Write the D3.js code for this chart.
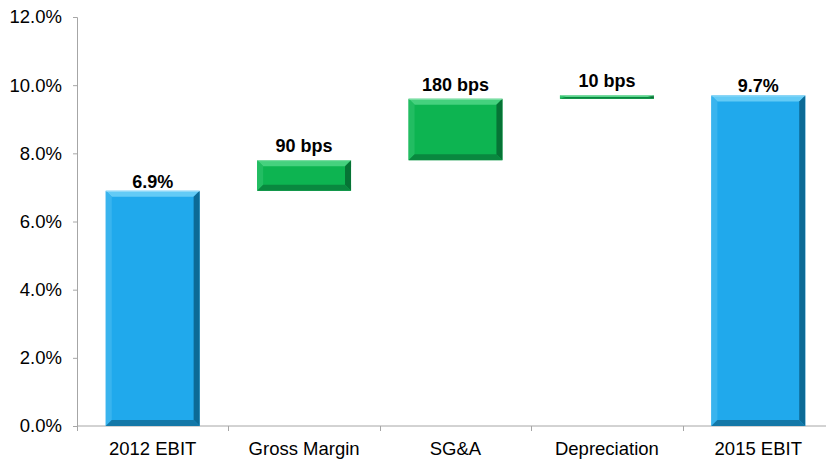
<!DOCTYPE html>
<html>
<head>
<meta charset="utf-8">
<script src="https://cdn.jsdelivr.net/npm/d3@7"></script>
<style>
  html, body { margin: 0; padding: 0; background: #fff; }
  svg { display: block; }
  text { font-family: "Liberation Sans", Arial, sans-serif; }
</style>
</head>
<body>
<svg id="chart" width="826" height="461"></svg>
<script>
// EBIT margin bridge, 2012 -> 2015 (percent of sales)
const categories = ["2012 EBIT", "Gross Margin", "SG&A", "Depreciation", "2015 EBIT"];
const kinds      = ["total", "step", "step", "step", "total"];
const changes    = [6.9, 0.9, 1.8, 0.1, 9.7];          // totals are levels, steps are deltas (pp)
const labels     = ["6.9%", "90 bps", "180 bps", "10 bps", "9.7%"];
const yTicks     = [0, 2, 4, 6, 8, 10, 12];

(function () {
  // running base for the floating steps
  let level = 0;
  const bars = categories.map((c, i) => {
    let lo, hi;
    if (kinds[i] === "total") { lo = 0; hi = changes[i]; level = hi; }
    else { lo = level; hi = level + changes[i]; level = hi; }
    return { cat: c, kind: kinds[i], lo, hi, label: labels[i] };
  });

  const svg = d3.select("#chart");
  const plotLeft = 77, plotRight = 834, plotTop = 17, plotBottom = 426;

  const x = d3.scaleBand().domain(categories).range([plotLeft, plotRight])
    .paddingInner(0.38).paddingOuter(0.19);
  const y = d3.scaleLinear().domain([0, 12]).range([plotBottom, plotTop]);

  const axisColor = "#a6a6a6";
  const palette = {
    total: { face: "#20a9ec", top: "#63cbf6", leftE: "#39b4ee", right: "#0c6a96", bot: "#1378a8" },
    step:  { face: "#0db451", top: "#45d17e", leftE: "#22bd62", right: "#067335", bot: "#09883f" }
  };
  const labelGap = { total: 3, step: 8 };

  // y axis
  const yAxis = d3.axisLeft(y).tickValues(yTicks).tickSize(4).tickPadding(11)
    .tickFormat(d => d3.format(".1f")(d) + "%");
  const gy = svg.append("g").attr("transform", `translate(${plotLeft},0)`).call(yAxis);
  gy.select(".domain").attr("stroke", axisColor);
  gy.selectAll(".tick line").attr("stroke", axisColor);
  gy.selectAll(".tick text").attr("fill", "#000").style("font-size", "18.5px")
    .style("font-family", "'Liberation Sans', Arial, sans-serif");

  // x axis baseline with tick marks on band boundaries
  svg.append("line").attr("x1", plotLeft).attr("x2", 826).attr("y1", y(0)).attr("y2", y(0))
    .attr("stroke", axisColor);
  const boundaries = categories.map(c => x(c) - x.step() * x.paddingInner() / 2);
  svg.selectAll(".xtick").data(boundaries).join("line")
    .attr("x1", d => Math.round(d) + 0.5).attr("x2", d => Math.round(d) + 0.5)
    .attr("y1", y(0)).attr("y2", y(0) + 5).attr("stroke", axisColor);
  svg.selectAll(".xlabel").data(categories).join("text")
    .attr("x", d => x(d) + x.bandwidth() / 2).attr("y", y(0) + 29)
    .attr("text-anchor", "middle").style("font-size", "18.5px").attr("fill", "#000")
    .text(d => d);

  // bevelled bars
  const g = svg.append("g");
  bars.forEach(b => {
    const x0 = x(b.cat), x1 = x0 + x.bandwidth();
    const y0 = y(b.hi), y1 = y(b.lo);
    const h = y1 - y0;
    const p = palette[b.kind];
    const bv = Math.min(6, h / 2);
    const bh = Math.min(6, (x1 - x0) / 2);
    g.append("rect").attr("x", x0).attr("y", y0).attr("width", x1 - x0).attr("height", h)
      .attr("fill", p.face);
    const poly = (pts, fill) => g.append("polygon")
      .attr("points", pts.map(q => q.join(",")).join(" ")).attr("fill", fill);
    poly([[x0, y0], [x1, y0], [x1 - bh, y0 + bv], [x0 + bh, y0 + bv]], p.top);
    poly([[x0, y0], [x0 + bh, y0 + bv], [x0 + bh, y1 - bv], [x0, y1]], p.leftE);
    poly([[x1, y0], [x1, y1], [x1 - bh, y1 - bv], [x1 - bh, y0 + bv]], p.right);
    poly([[x0, y1], [x0 + bh, y1 - bv], [x1 - bh, y1 - bv], [x1, y1]], p.bot);
    g.append("line").attr("x1", x0).attr("x2", x1).attr("y1", y0 + 0.5).attr("y2", y0 + 0.5)
      .attr("stroke", "#fff").attr("stroke-opacity", 0.35);
  });

  // value labels
  svg.selectAll(".vlabel").data(bars).join("text")
    .attr("x", d => x(d.cat) + x.bandwidth() / 2).attr("y", d => y(d.hi) - labelGap[d.kind])
    .attr("text-anchor", "middle").style("font-size", "18px").style("font-weight", "bold")
    .attr("fill", "#000").text(d => d.label);
})();
</script>
</body>
</html>
